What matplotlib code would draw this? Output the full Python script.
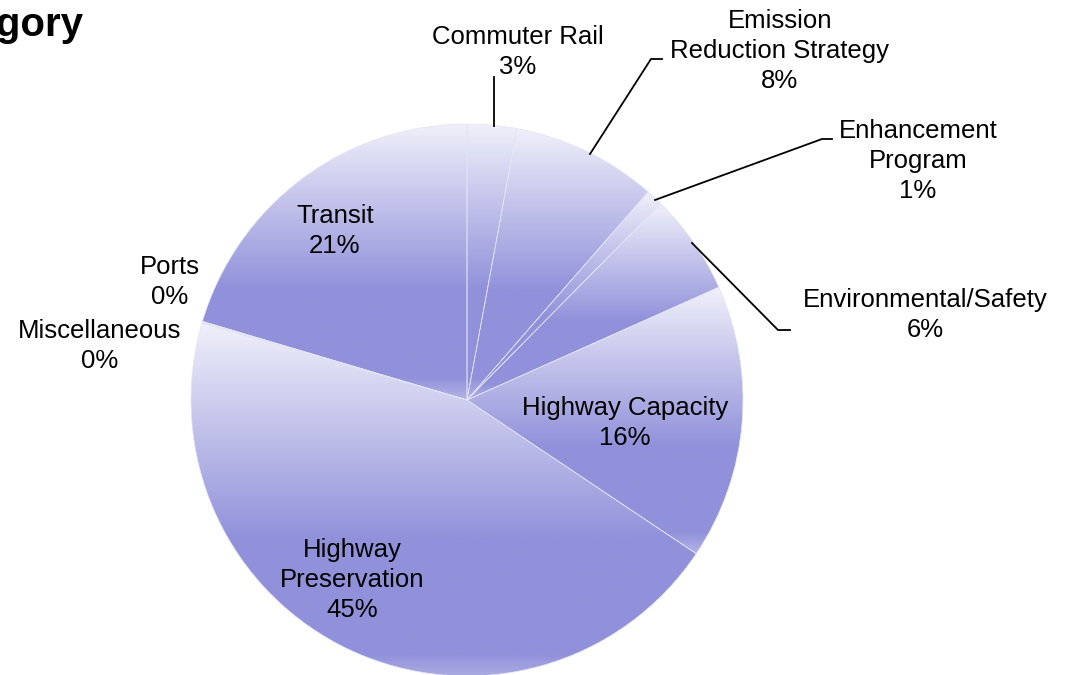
import matplotlib
matplotlib.use("Agg")
import matplotlib.pyplot as plt
import numpy as np
from matplotlib.colors import LinearSegmentedColormap

# slice data, clockwise from 12 o'clock
categories = ["Commuter Rail", "Emission\nReduction Strategy", "Enhancement\nProgram",
              "Environmental/Safety", "Highway Capacity", "Highway\nPreservation",
              "Miscellaneous", "Ports", "Transit"]
shares = [2.9, 8.5, 1.0, 5.9, 16.1, 45.1, 0.05, 0.05, 20.4]
pct_labels = ["3%", "8%", "1%", "6%", "16%", "45%", "0%", "0%", "21%"]

W, H = 1066, 675


def px(x, y):
    """pixel coords (origin top-left) -> data coords"""
    return x, H - y


fig = plt.figure(figsize=(10.66, 6.75), dpi=100)
ax = fig.add_axes([0, 0, 1, 1])

cx, cy = px(467, 400)
wedges, _ = ax.pie(shares, startangle=90, counterclock=False, center=(cx, cy),
                   radius=276, wedgeprops=dict(edgecolor="#e4e4f4", linewidth=0.5))

grad = LinearSegmentedColormap.from_list(
    "lav", [(0.0, "#f0f0fa"), (0.6, "#9191db"), (0.92, "#9191db"), (1.0, "#b4b4e6")])
g = np.linspace(0, 1, 256).reshape(-1, 1)
for w in wedges:
    v = w.get_path().vertices
    x0, x1 = v[:, 0].min(), v[:, 0].max()
    y0, y1 = v[:, 1].min(), v[:, 1].max()
    if y1 - y0 < 1:
        continue
    im = ax.imshow(g, cmap=grad, extent=(x0, x1, y0, y1), origin="upper",
                   aspect="auto", zorder=1, interpolation="bilinear")
    im.set_clip_path(w)
    w.set_facecolor("none")
    w.set_zorder(2)

ax.set_xlim(0, W)
ax.set_ylim(0, H)
ax.set_aspect("auto")
ax.axis("off")

font = "Liberation Sans"
lab_pos = [(518, 52), (780, 51), (918, 161), (925, 315), (625, 423),
           (352, 580), (100, 346), (170, 282), (335, 231)]
for name, pct, (lx, ly) in zip(categories, pct_labels, lab_pos):
    x, y = px(lx, ly)
    ax.text(x, y, f"{name}\n{pct}", ha="center", va="center", fontsize=18.5,
            family=font, linespacing=1.3, zorder=5)

# leader lines
leaders = [
    [(494, 126), (494, 77)],
    [(590, 154), (651, 59), (662, 59)],
    [(655, 200), (822, 139), (832, 139)],
    [(692, 243), (778, 330), (790, 330)],
]
for pts in leaders:
    xs, ys = zip(*[px(a, b) for a, b in pts])
    ax.plot(xs, ys, color="black", linewidth=1.3, zorder=4)

tx, ty = px(83, 36)
ax.text(tx, ty, "Funding by Category", ha="right", va="baseline", fontsize=29,
        fontweight="bold", family=font)

fig.savefig("out.png", dpi=100)
